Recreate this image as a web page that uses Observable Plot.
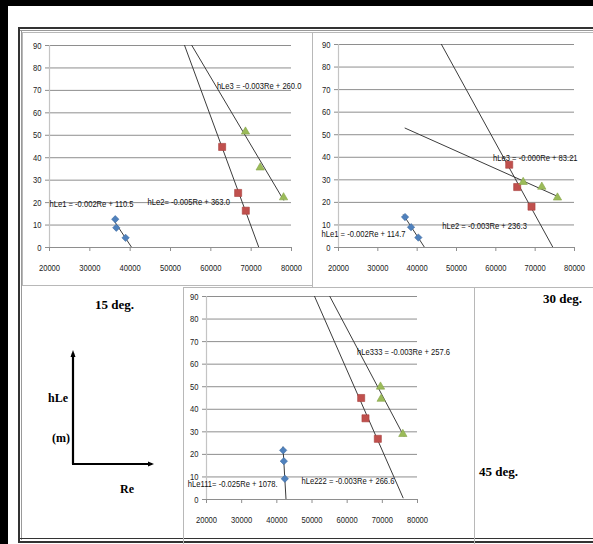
<!DOCTYPE html>
<html>
<head>
<meta charset="utf-8">
<script src="https://cdn.jsdelivr.net/npm/d3@7"></script>
<script src="https://cdn.jsdelivr.net/npm/@observablehq/plot@0.6"></script>
<style>
  html, body { margin: 0; padding: 0; background: #fff; }
  #page { position: relative; width: 593px; height: 544px; overflow: hidden; background: #fff; }
  .abs { position: absolute; }
  .deg { position: absolute; font: bold 13px "Liberation Serif", "Times New Roman", serif; line-height: 13px; color: #000; white-space: nowrap; }
  .lbl { position: absolute; font: bold 12px "Liberation Serif", "Times New Roman", serif; line-height: 12px; color: #000; white-space: nowrap; }
  .box { position: absolute; box-sizing: border-box; border: 1px solid #b8b8b8; }
  .chart { position: absolute; }
  .chart svg { overflow: visible; }
</style>
</head>
<body>
<div id="page">
  <!-- page edge bands -->
  <div class="abs" style="left:0;top:0;width:593px;height:6px;background:#000"></div>
  <div class="abs" style="left:0;top:0;width:8px;height:544px;background:#000"></div>

  <!-- table frame (double rules) -->
  <div class="abs" style="left:18px;top:27px;width:575px;height:2px;background:#333"></div>
  <div class="abs" style="left:20px;top:30px;width:573px;height:1px;background:#999"></div>
  <div class="abs" style="left:18px;top:27px;width:2px;height:516px;background:#333"></div>
  <div class="abs" style="left:21px;top:30px;width:1px;height:510px;background:#999"></div>
  <div class="abs" style="left:18px;top:538px;width:575px;height:1px;background:#333"></div>
  <div class="abs" style="left:18px;top:541px;width:575px;height:2px;background:#333"></div>

  <!-- chart boxes -->
  <div class="box" style="left:22px;top:32px;width:291px;height:254px"></div>
  <div class="box" style="left:312px;top:32px;width:290px;height:256px"></div>
  <div class="box" style="left:183px;top:287px;width:292px;height:260px"></div>
  <div class="abs" style="left:22px;top:285px;width:161px;height:1px;background:#b8b8b8"></div>
  <div class="abs" style="left:474px;top:287px;width:119px;height:1px;background:#b8b8b8"></div>

  <div id="c15" class="chart" style="left:22px;top:32px"></div>
  <div id="c30" class="chart" style="left:313px;top:33px"></div>
  <div id="c45" class="chart" style="left:183px;top:287px"></div>

  <div id="t15" class="deg" style="left:95px;top:298px"></div>
  <div id="t30" class="deg" style="left:543px;top:292px"></div>
  <div id="t45" class="deg" style="left:479px;top:465px"></div>

  <!-- axis key: hLe (m) against Re -->
  <svg class="abs" style="left:0;top:0" width="593" height="544">
    <path d="M73,464 V353 M72,464 H152" stroke="#000" stroke-width="2.2" fill="none"/>
    <path d="M70.5,357 L73,350 L75.5,357 Z" fill="#000"/>
    <path d="M148,461.5 L154,464 L148,466.5 Z" fill="#000"/>
  </svg>
  <div class="lbl" style="left:48px;top:392px">hLe</div>
  <div class="lbl" style="left:52px;top:432px">(m)</div>
  <div class="lbl" style="left:120px;top:483px">Re</div>
</div>

<script>
// Axis ticks shared by all three charts
const xTicks = [20000, 30000, 40000, 50000, 60000, 70000, 80000];
const yTicks = [0, 10, 20, 30, 40, 50, 60, 70, 80, 90];
const angleLabels = ["15 deg.", "30 deg.", "45 deg."];

// 15 deg. — Re and hLe (m) for each of the three series
const re15s1 = [36300, 36560, 38870];
const hle15s1 = [12.6, 8.8, 4.3];
const re15s2 = [62800, 66770, 68670];
const hle15s2 = [44.8, 24.3, 16.4];
const re15s3 = [68590, 72240, 78030];
const hle15s3 = [51.6, 35.6, 22.3];
const eq15 = ["hLe1 = -0.002Re + 110.5", "hLe2= -0.005Re + 363.0", "hLe3 = -0.003Re + 260.0"];

// 30 deg.
const re30s1 = [36920, 38440, 40300];
const hle30s1 = [13.5, 9.0, 4.4];
const re30s2 = [63400, 65430, 69070];
const hle30s2 = [36.7, 26.8, 18.1];
const re30s3 = [66950, 71690, 75670];
const hle30s3 = [29.0, 26.9, 22.1];
const eq30 = ["hLe1 = -0.002Re + 114.7", "hLe2 = -0.003Re + 236.3", "hLe3 = -0.000Re + 83.21"];

// 45 deg.
const re45s1 = [41800, 41990, 42270];
const hle45s1 = [21.8, 17.0, 9.2];
const re45s2 = [63980, 65210, 68720];
const hle45s2 = [45.0, 36.0, 26.9];
const re45s3 = [69480, 69670, 75830];
const hle45s3 = [50.0, 44.6, 29.0];
const eq45 = ["hLe111= -0.025Re + 1078.", "hLe222 = -0.003Re + 266.6", "hLe333 = -0.003Re + 257.6"];

const seriesColors = ["#4f81bd", "#c0504d", "#9bbb59"];
const seriesStroke = ["#3d6aa0", "#a8403d", "#86a54a"];
const seriesSymbols = ["diamond2", "square", "triangle"];
const seriesR = [3.3, 4, 3.1];

// least-squares line through one series
function fit(xs, ys) {
  const mx = d3.mean(xs), my = d3.mean(ys);
  let sxy = 0, sxx = 0;
  xs.forEach((x, i) => { sxy += (x - mx) * (ys[i] - my); sxx += (x - mx) ** 2; });
  const b = sxy / sxx;
  return {a: my - b * mx, b};
}

function chart(cfg) {
  const pts = [], trends = [];
  cfg.series.forEach(([xs, ys], k) => {
    xs.forEach((x, i) => pts.push({Re: x, hLe: ys[i], s: k}));
    const {a, b} = fit(xs, ys);
    const [r0, r1] = cfg.trendRange[k];
    trends.push({Re: r0, hLe: a + b * r0, s: k}, {Re: r1, hLe: a + b * r1, s: k});
  });
  const eqs = cfg.equations.map((t, k) => ({text: t, Re: cfg.eqAt[k][0], hLe: cfg.eqAt[k][1]}));

  const marks = [
    Plot.ruleY(yTicks, {stroke: "#8e8e8e", strokeWidth: 1}),
    Plot.ruleX([xTicks[0]], {stroke: "#c4c4c4", strokeWidth: 1.2}),
    Plot.axisY({ticks: yTicks, tickSize: 4, tickPadding: 4, stroke: "#8e8e8e", fill: "#222", label: null}),
    Plot.axisX({ticks: xTicks, tickSize: 4, tickPadding: 13, tickFormat: d3.format("d"), stroke: "#8e8e8e", fill: "#222", label: null}),
    Plot.line(trends, {x: "Re", y: "hLe", z: "s", stroke: "#3c3c3c", strokeWidth: 1, clip: true})
  ];
  [0, 1, 2].forEach(k => {
    marks.push(Plot.dot(pts.filter(d => d.s === k), {
      x: "Re", y: "hLe", symbol: seriesSymbols[k], r: seriesR[k],
      fill: seriesColors[k], stroke: seriesStroke[k], strokeWidth: 0.6
    }));
  });
  marks.push(Plot.text(eqs, {x: "Re", y: "hLe", text: "text", textAnchor: "start", fill: "#111", fontSize: 9.5}));

  return Plot.plot({
    width: cfg.width, height: cfg.height,
    marginLeft: cfg.margin[3], marginRight: cfg.margin[1],
    marginTop: cfg.margin[0], marginBottom: cfg.margin[2],
    x: {domain: [xTicks[0], xTicks[xTicks.length - 1]]},
    y: {domain: [yTicks[0], yTicks[yTicks.length - 1]]},
    style: {background: "transparent", fontFamily: "'Liberation Sans', Arial, sans-serif", fontSize: "9.5px", overflow: "visible"},
    marks
  });
}

// narrow the chart lettering, as in the spreadsheet's condensed font
function condense(svg, k) {
  svg.querySelectorAll("text").forEach(t => {
    const len = t.getComputedTextLength();
    if (len > 0) {
      t.setAttribute("textLength", (len * k).toFixed(2));
      t.setAttribute("lengthAdjust", "spacingAndGlyphs");
    }
  });
}

function mount(id, cfg) {
  const svg = chart(cfg);
  document.getElementById(id).append(svg);
  condense(svg, 0.8);
}

mount("c15", {
  width: 290, height: 253, margin: [13, 21, 38, 27],
  series: [[re15s1, hle15s1], [re15s2, hle15s2], [re15s3, hle15s3]],
  trendRange: [[35900, 41000], [50000, 76000], [50000, 78030]],
  equations: eq15,
  eqAt: [[20000, 19.4], [44300, 20.4], [61500, 72.0]]
});

mount("c30", {
  width: 280, height: 254, margin: [11, 19, 40, 25],
  series: [[re30s1, hle30s1], [re30s2, hle30s2], [re30s3, hle30s3]],
  trendRange: [[36500, 43000], [44000, 77000], [36920, 76000]],
  equations: eq30,
  eqAt: [[15700, 6.1], [46400, 9.6], [59300, 39.5]]
});

mount("c45", {
  width: 291, height: 253, margin: [9, 57, 41, 23],
  series: [[re45s1, hle45s1], [re45s2, hle45s2], [re45s3, hle45s3]],
  trendRange: [[41750, 43000], [50000, 75900], [50000, 76100]],
  equations: eq45,
  eqAt: [[14700, 7.1], [47000, 8.3], [62800, 65.6]]
});

document.getElementById("t15").textContent = angleLabels[0];
document.getElementById("t30").textContent = angleLabels[1];
document.getElementById("t45").textContent = angleLabels[2];
</script>
</body>
</html>
